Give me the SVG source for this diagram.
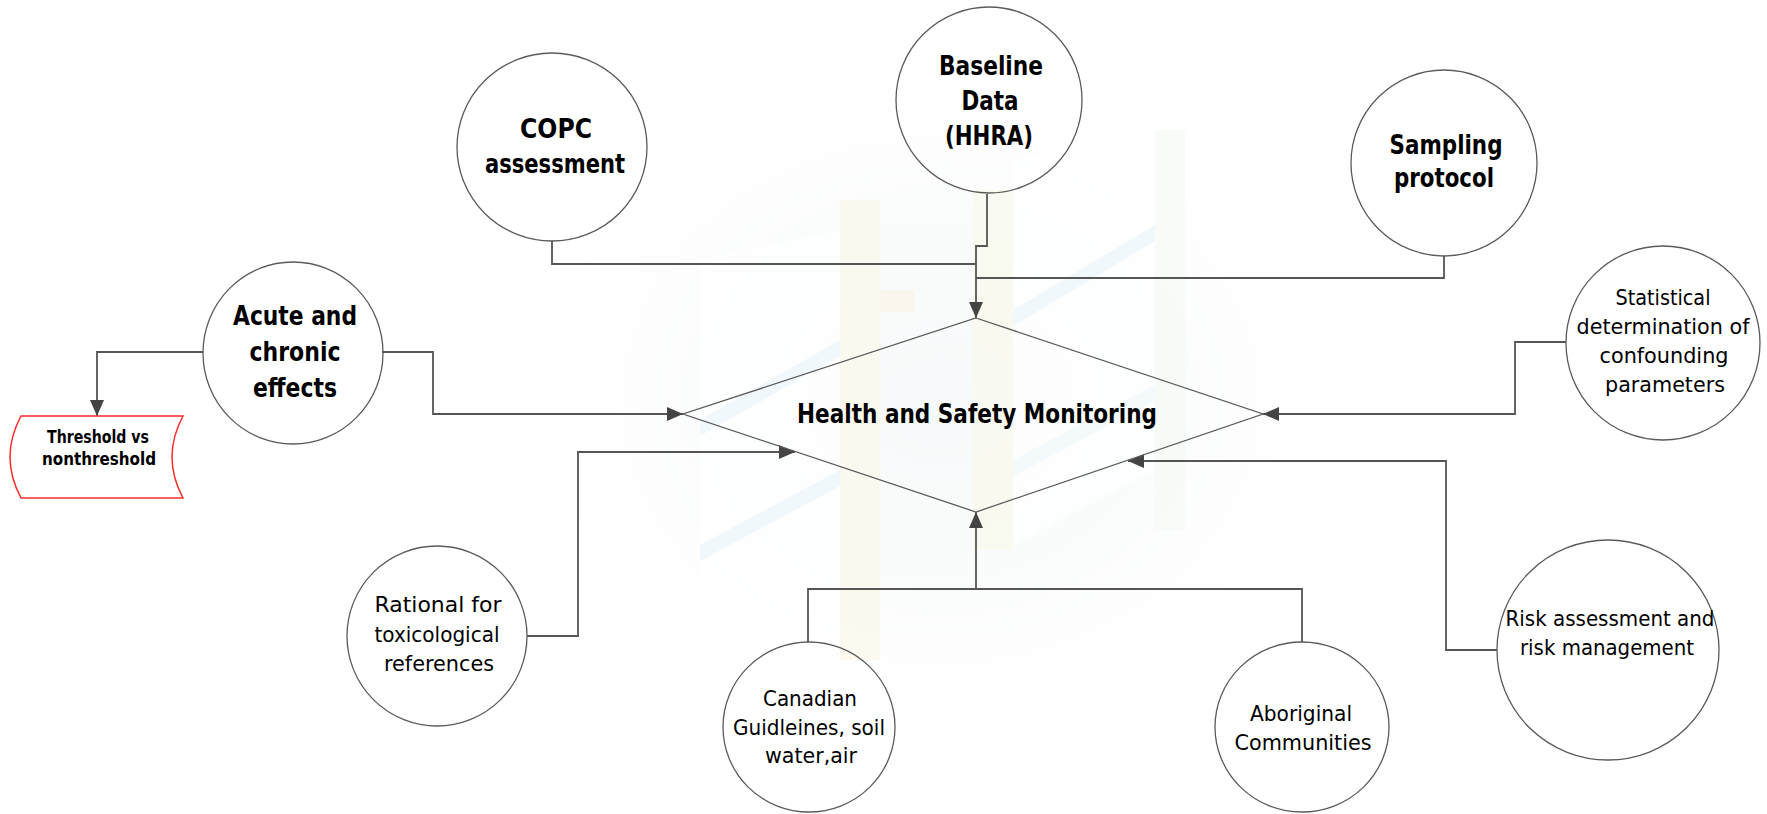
<svg xmlns="http://www.w3.org/2000/svg" width="1767" height="814" viewBox="0 0 1767 814">
<style>
.nd{fill:none;stroke:#5a5a5a;stroke-width:1.3}
.cn{fill:none;stroke:#555;stroke-width:1.8}
.b{font-family:"DejaVu Sans",Verdana,sans-serif;font-weight:bold;font-size:26px;fill:#000;text-anchor:middle}
.r{font-family:"DejaVu Sans",Verdana,sans-serif;font-size:22px;fill:#000;text-anchor:middle}
.s{font-family:"DejaVu Sans",Verdana,sans-serif;font-weight:bold;font-size:18px;fill:#000;text-anchor:middle}
</style>
<defs>
<marker id="arr" viewBox="0 0 16 16" markerWidth="16" markerHeight="16" refX="16" refY="8" orient="auto" markerUnits="userSpaceOnUse">
<path d="M0,1 L16,8 L0,15 z" fill="#444"/>
</marker>
<radialGradient id="glow" cx="0.5" cy="0.5" r="0.5">
<stop offset="0" stop-color="#eef5f6" stop-opacity="0.9"/>
<stop offset="0.6" stop-color="#f3f8f6" stop-opacity="0.6"/>
<stop offset="1" stop-color="#ffffff" stop-opacity="0"/>
</radialGradient>
</defs>
<rect width="1767" height="814" fill="#fff"/>
<g id="watermark" opacity="0.5">
<ellipse cx="940" cy="400" rx="400" ry="330" fill="url(#glow)"/>
<rect x="840" y="200" width="40" height="460" fill="#f8f0d6" opacity="0.7"/>
<rect x="973" y="190" width="40" height="360" fill="#f4f3da" opacity="0.7"/>
<rect x="1155" y="130" width="30" height="400" fill="#eef6ee" opacity="0.7"/>
<rect x="880" y="290" width="35" height="22" fill="#f7e6c6" opacity="0.5"/>
<polygon points="700,260 840,230 840,640 700,660" fill="#fff" opacity="0.75"/>
<polygon points="1013,160 1155,130 1155,470 1013,545" fill="#fff" opacity="0.75"/>
<polygon points="700,420 840,340 840,356 700,436" fill="#d9edf6" opacity="0.7"/>
<polygon points="700,545 840,470 840,486 700,561" fill="#d9edf6" opacity="0.7"/>
<polygon points="1013,310 1155,225 1155,241 1013,326" fill="#d9edf6" opacity="0.7"/>
<polygon points="1013,460 1155,385 1155,401 1013,476" fill="#d9edf6" opacity="0.5"/>
</g>
<g id="connectors">
<polyline class="cn" points="552,241 552,264 976,264"/>
<polyline class="cn" points="987,194 987,246 976,246 976,318" marker-end="url(#arr)"/>
<polyline class="cn" points="1444,256 1444,278 976,278"/>
<polyline class="cn" points="203,352 97,352 97,416" marker-end="url(#arr)"/>
<polyline class="cn" points="382,352 433,352 433,414 683,414" marker-end="url(#arr)"/>
<polyline class="cn" points="1566,342 1515,342 1515,414 1263,414" marker-end="url(#arr)"/>
<polyline class="cn" points="527,636 578,636 578,452 795,452" marker-end="url(#arr)"/>
<polyline class="cn" points="808,642 808,589 1302,589 1302,642"/>
<polyline class="cn" points="976,589 976,512" marker-end="url(#arr)"/>
<polyline class="cn" points="1497,650 1446,650 1446,461 1128,461" marker-end="url(#arr)"/>
</g>
<g id="n-center">
<polygon class="nd" points="976,318 1263,414 976,512 683,414"/>
<text class="b" x="977" y="423" font-size="28" textLength="360" lengthAdjust="spacingAndGlyphs">Health and Safety Monitoring</text>
</g>
<g id="n-copc">
<ellipse class="nd" cx="552" cy="147" rx="95" ry="94"/>
<text class="b" x="556" y="138" textLength="72" lengthAdjust="spacingAndGlyphs">COPC</text>
<text class="b" x="555" y="173" textLength="140" lengthAdjust="spacingAndGlyphs">assessment</text>
</g>
<g id="n-baseline">
<ellipse class="nd" cx="989" cy="100" rx="93" ry="93"/>
<text class="b" x="991" y="75" textLength="104" lengthAdjust="spacingAndGlyphs">Baseline</text>
<text class="b" x="990" y="110" textLength="57" lengthAdjust="spacingAndGlyphs">Data</text>
<text class="b" x="989" y="145" textLength="88" lengthAdjust="spacingAndGlyphs">(HHRA)</text>
</g>
<g id="n-sampling">
<ellipse class="nd" cx="1444" cy="163" rx="93" ry="93"/>
<text class="b" x="1446" y="154" textLength="113" lengthAdjust="spacingAndGlyphs">Sampling</text>
<text class="b" x="1444" y="187" textLength="100" lengthAdjust="spacingAndGlyphs">protocol</text>
</g>
<g id="n-acute">
<ellipse class="nd" cx="293" cy="353" rx="90" ry="91"/>
<text class="b" x="295" y="325" textLength="124" lengthAdjust="spacingAndGlyphs">Acute and</text>
<text class="b" x="295" y="361" textLength="91" lengthAdjust="spacingAndGlyphs">chronic</text>
<text class="b" x="295" y="397" textLength="84" lengthAdjust="spacingAndGlyphs">effects</text>
</g>
<g id="n-threshold">
<path d="M21,416 L183,416 Q161,457 183,498 L21,498 Q-1,457 21,416 Z" fill="#fff" stroke="#ff2a2a" stroke-width="1.5"/>
<text class="s" x="98" y="443" textLength="102" lengthAdjust="spacingAndGlyphs">Threshold vs</text>
<text class="s" x="99" y="465" textLength="114" lengthAdjust="spacingAndGlyphs">nonthreshold</text>
</g>
<g id="n-statistical">
<ellipse class="nd" cx="1663" cy="343" rx="97" ry="97"/>
<text class="r" x="1663" y="305" textLength="95" lengthAdjust="spacingAndGlyphs">Statistical</text>
<text class="r" x="1663" y="334" textLength="173" lengthAdjust="spacingAndGlyphs">determination of</text>
<text class="r" x="1664" y="363" textLength="129" lengthAdjust="spacingAndGlyphs">confounding</text>
<text class="r" x="1665" y="392" textLength="120" lengthAdjust="spacingAndGlyphs">parameters</text>
</g>
<g id="n-rational">
<ellipse class="nd" cx="437" cy="636" rx="90" ry="90"/>
<text class="r" x="438" y="612" textLength="127" lengthAdjust="spacingAndGlyphs">Rational for</text>
<text class="r" x="437" y="642" textLength="125" lengthAdjust="spacingAndGlyphs">toxicological</text>
<text class="r" x="439" y="671" textLength="110" lengthAdjust="spacingAndGlyphs">references</text>
</g>
<g id="n-canadian">
<ellipse class="nd" cx="809" cy="727" rx="86" ry="85"/>
<text class="r" x="810" y="706" textLength="94" lengthAdjust="spacingAndGlyphs">Canadian</text>
<text class="r" x="809" y="735" textLength="152" lengthAdjust="spacingAndGlyphs">Guidleines, soil</text>
<text class="r" x="811" y="763" textLength="92" lengthAdjust="spacingAndGlyphs">water,air</text>
</g>
<g id="n-aboriginal">
<ellipse class="nd" cx="1302" cy="727" rx="87" ry="85"/>
<text class="r" x="1301" y="721" textLength="102" lengthAdjust="spacingAndGlyphs">Aboriginal</text>
<text class="r" x="1303" y="750" textLength="137" lengthAdjust="spacingAndGlyphs">Communities</text>
</g>
<g id="n-risk">
<ellipse class="nd" cx="1608" cy="650" rx="111" ry="110"/>
<text class="r" x="1610" y="626" textLength="209" lengthAdjust="spacingAndGlyphs">Risk assessment and</text>
<text class="r" x="1607" y="655" textLength="174" lengthAdjust="spacingAndGlyphs">risk management</text>
</g>
</svg>
